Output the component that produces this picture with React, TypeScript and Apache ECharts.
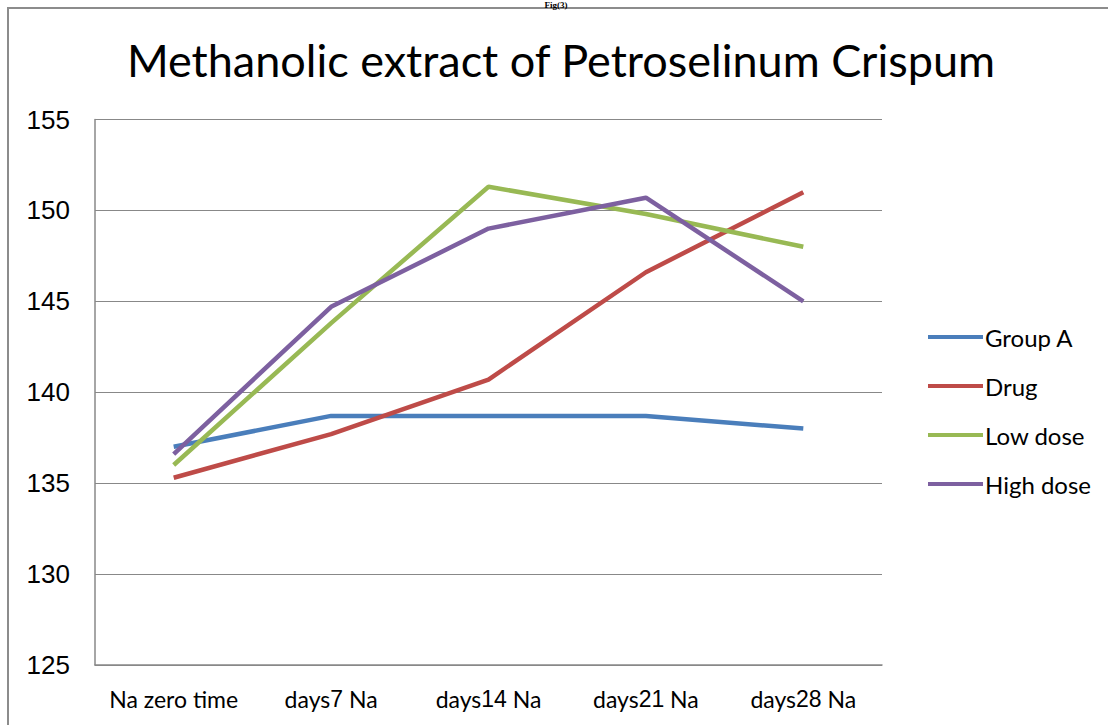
import React, { useEffect, useRef } from "react";
import * as echarts from "echarts";

const categories = ["Na zero time", "days7 Na", "days14 Na", "days21 Na", "days28 Na"];
const groupA = [137.0, 138.7, 138.7, 138.7, 138.0];
const drug = [135.3, 137.7, 140.7, 146.6, 151.0];
const lowDose = [136.0, 143.8, 151.3, 149.8, 148.0];
const highDose = [136.6, 144.7, 149.0, 150.7, 145.0];
const seriesNames = ["Group A", "Drug", "Low dose", "High dose"];
const colors = ["#4A7EBB", "#BE4B48", "#98B954", "#7D60A0"];

export default function App() {
  const ref = useRef<HTMLDivElement>(null);
  useEffect(() => {
    document.body.style.margin = "0";
    const chart = echarts.init(ref.current!, null, { renderer: "svg" });
    const data = [groupA, drug, lowDose, highDose];
    chart.setOption({
      animation: false,
      backgroundColor: "#ffffff",
      graphic: [
        {
          type: "rect",
          shape: { x: 8, y: 8, width: 1200, height: 900 },
          style: { fill: "none", stroke: "#8c8c8c", lineWidth: 2 },
          silent: true,
        },
        {
          type: "text",
          x: 556,
          y: 0,
          style: {
            text: "Fig(3)",
            font: "bold 9px 'Liberation Serif', serif",
            fill: "#000",
            align: "center",
            verticalAlign: "top",
          },
        },
        {
          type: "text",
          x: 561,
          y: 60,
          style: {
            text: "Methanolic extract of Petroselinum Crispum",
            font: "45px Lato, sans-serif",
            fill: "#000",
            align: "center",
            verticalAlign: "middle",
          },
        },
      ],
      legend: {
        orient: "vertical",
        left: 923,
        top: 320,
        itemWidth: 55,
        itemHeight: 4,
        itemGap: 25,
        icon: "rect",
        data: seriesNames,
        textStyle: { fontFamily: "Lato, sans-serif", fontSize: 24, color: "#000", padding: [0, 0, 0, -3] },
      },
      grid: { left: 95, right: 226, top: 119.5, bottom: 60 },
      xAxis: {
        type: "category",
        data: categories,
        boundaryGap: true,
        axisTick: { show: false },
        axisLine: { lineStyle: { color: "#888", width: 1.5 } },
        axisLabel: {
          interval: 0,
          hideOverlap: false,
          margin: 22,
          formatter: (v: string) => v.replace(/(\d+)/, "{n|$1}"),
          fontFamily: "Lato, sans-serif",
          fontSize: 23,
          color: "#000",
          rich: {
            n: { fontFamily: "'Liberation Sans', Arial, sans-serif", fontSize: 23, color: "#000" },
          },
        },
      },
      yAxis: {
        type: "value",
        min: 125,
        max: 155,
        interval: 5,
        axisLine: { show: true, lineStyle: { color: "#888", width: 1.5 } },
        axisTick: { show: false },
        splitLine: { lineStyle: { color: "#888", width: 1.2 } },
        axisLabel: {
          margin: 25,
          fontFamily: "'Liberation Sans', Arial, sans-serif",
          fontSize: 26,
          color: "#000",
        },
      },
      series: data.map((d, i) => ({
        name: seriesNames[i],
        type: "line",
        data: d,
        symbol: "none",
        smooth: false,
        lineStyle: { width: 4.5, color: colors[i] },
        itemStyle: { color: colors[i] },
      })),
    });
    return () => chart.dispose();
  }, []);
  return <div ref={ref} style={{ width: 1108, height: 725 }} />;
}
